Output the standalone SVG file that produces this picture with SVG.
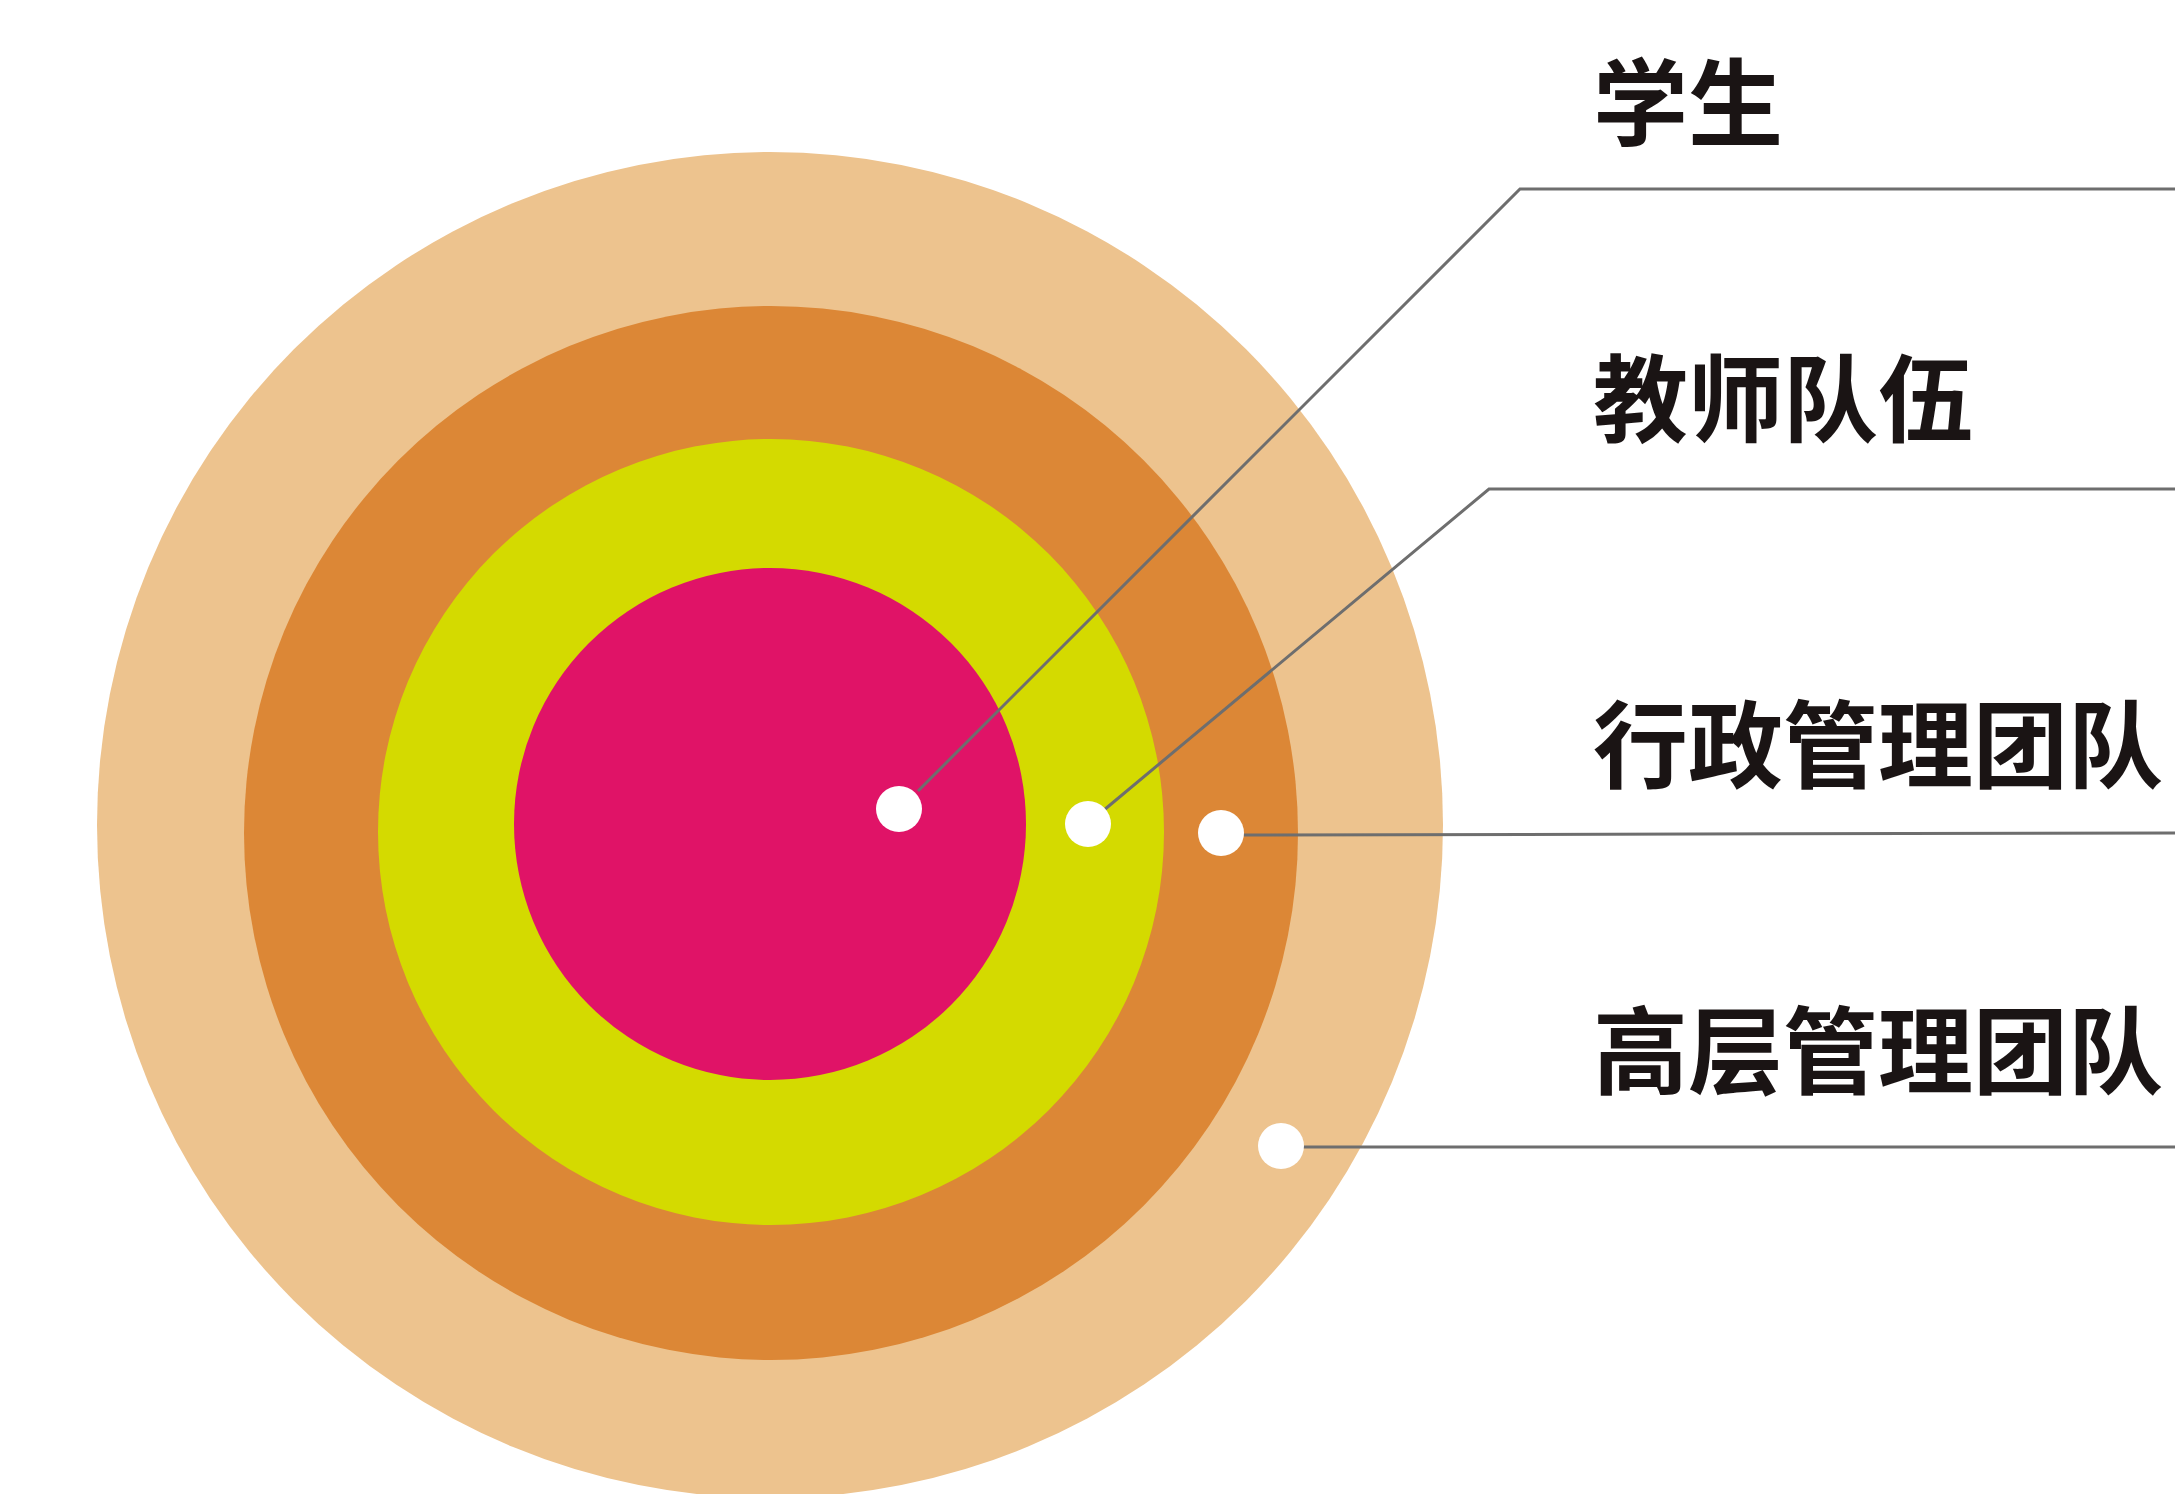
<svg xmlns="http://www.w3.org/2000/svg" width="2175" height="1494" viewBox="0 0 2175 1494">
<style>
.lbl{font-family:"Noto Sans CJK SC","Noto Sans CJK JP",sans-serif;font-size:95px;font-weight:700;fill:#1a1414}
.ln{fill:none;stroke:#6e6e6e;stroke-width:3}
.dot{fill:#ffffff}
</style>
<rect width="2175" height="1494" fill="#ffffff"/>
<g id="ring-senior"><circle cx="770" cy="825" r="673" fill="#EDC38E"/></g>
<g id="ring-admin"><circle cx="771" cy="833" r="527" fill="#DC8736"/></g>
<g id="ring-teacher"><circle cx="771" cy="832" r="393" fill="#D4DA00"/></g>
<g id="ring-student"><circle cx="770" cy="824" r="256" fill="#E01367"/></g>
<g id="connectors">
<polyline class="ln" points="918,791 1520,189 2175,189"/>
<polyline class="ln" points="1104,810 1489,489 2175,489"/>
<polyline class="ln" points="1244,835 2175,833"/>
<polyline class="ln" points="1303,1147 2175,1147"/>
</g>
<g id="dots">
<circle class="dot" cx="899" cy="809" r="23"/>
<circle class="dot" cx="1088" cy="824" r="23"/>
<circle class="dot" cx="1221" cy="833" r="23"/>
<circle class="dot" cx="1281" cy="1146" r="23"/>
</g>
<g id="label-student"><text class="lbl" x="1593" y="139">学生</text></g>
<g id="label-teacher"><text class="lbl" x="1593" y="435">教师队伍</text></g>
<g id="label-admin"><text class="lbl" x="1593" y="781">行政管理团队</text></g>
<g id="label-senior"><text class="lbl" x="1593" y="1087">高层管理团队</text></g>
</svg>
